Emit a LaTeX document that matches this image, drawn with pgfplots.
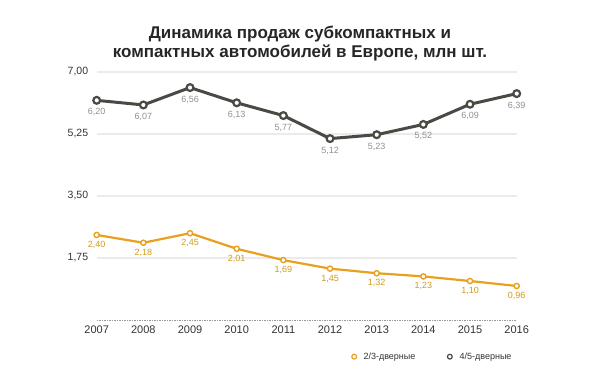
\documentclass[border=0pt]{standalone}
\usepackage{fontspec}
\setmainfont{Liberation Sans}
\usepackage{pgfplots}
\pgfplotsset{compat=1.18}
\definecolor{cgray}{HTML}{4A4A44}
\definecolor{corange}{HTML}{E8A01E}
\definecolor{clabelo}{HTML}{D09A1A}
\definecolor{clabelg}{HTML}{909090}
\definecolor{cgrid}{HTML}{EBEBEB}
\definecolor{ctext}{HTML}{333333}
\begin{document}
\begin{tikzpicture}[x=1pt,y=1pt]
\path[use as bounding box] (0,0) rectangle (600,379);
\node[align=center, font=\fontsize{17}{19}\selectfont\bfseries, text=black!85] at (300,335) {Динамика продаж субкомпактных и\\компактных автомобилей в Европе, млн шт.};
\begin{axis}[
  at={(96.7pt,59pt)}, anchor=south west, scale only axis,
  width=420pt, height=248pt,
  xmin=2007, xmax=2016, ymin=0, ymax=7,
  clip=false,
  axis line style={draw=none}, tick style={draw=none},
  xtick={2007,2008,...,2016},
  ytick={1.75,3.5,5.25,7},
  extra y ticks={0}, extra y tick labels={},
  extra y tick style={grid style={densely dotted, black!40, line width=0.8pt}},
  ymajorgrids, grid style={cgrid, line width=1.5pt},
  /pgf/number format/assume math mode=true,
  x tick label style={/pgf/number format/1000 sep={}, font=\fontsize{11}{12}\selectfont, text=ctext},
  y tick label style={/pgf/number format/.cd, fixed, fixed zerofill, precision=2, use comma, /tikz/.cd, font=\fontsize{10.5}{12}\selectfont, text=ctext, xshift=-5pt},
  xticklabel style={yshift=-2pt},
  nodes near coords={\pgfmathprintnumber[fixed, fixed zerofill, precision=2, use comma, assume math mode=true]{\pgfplotspointmeta}},
  legend columns=2,
  legend style={at={(1.0,-0.148)}, anchor=east, draw=none, fill=none, font=\fontsize{9}{10}\selectfont, text=ctext,
    /tikz/every even column/.append style={column sep=30pt}},
  legend image code/.code={\draw[#1, mark size=2.4pt, mark options={fill=white, line width=1.2pt}] plot coordinates {(0.1cm,0cm)}; \path (0.32cm,0cm);},
]
\addplot[corange, line width=2.2pt, mark=*, mark size=2.6pt, mark options={fill=white, draw=corange, line width=1.4pt},
  nodes near coords style={anchor=center, yshift=-10pt, font=\fontsize{9}{10}\selectfont, text=clabelo}]
  coordinates {(2007,2.40) (2008,2.18) (2009,2.45) (2010,2.01) (2011,1.69) (2012,1.45) (2013,1.32) (2014,1.23) (2015,1.10) (2016,0.96)};
\addlegendentry{2/3-дверные}
\addplot[cgray, line width=3pt, mark=*, mark size=3.4pt, mark options={fill=white, draw=cgray, line width=2.2pt},
  nodes near coords style={anchor=center, yshift=-12pt, font=\fontsize{9}{10}\selectfont, text=clabelg}]
  coordinates {(2007,6.20) (2008,6.07) (2009,6.56) (2010,6.13) (2011,5.77) (2012,5.12) (2013,5.23) (2014,5.52) (2015,6.09) (2016,6.39)};
\addlegendentry{4/5-дверные}
\end{axis}
\end{tikzpicture}
\end{document}
